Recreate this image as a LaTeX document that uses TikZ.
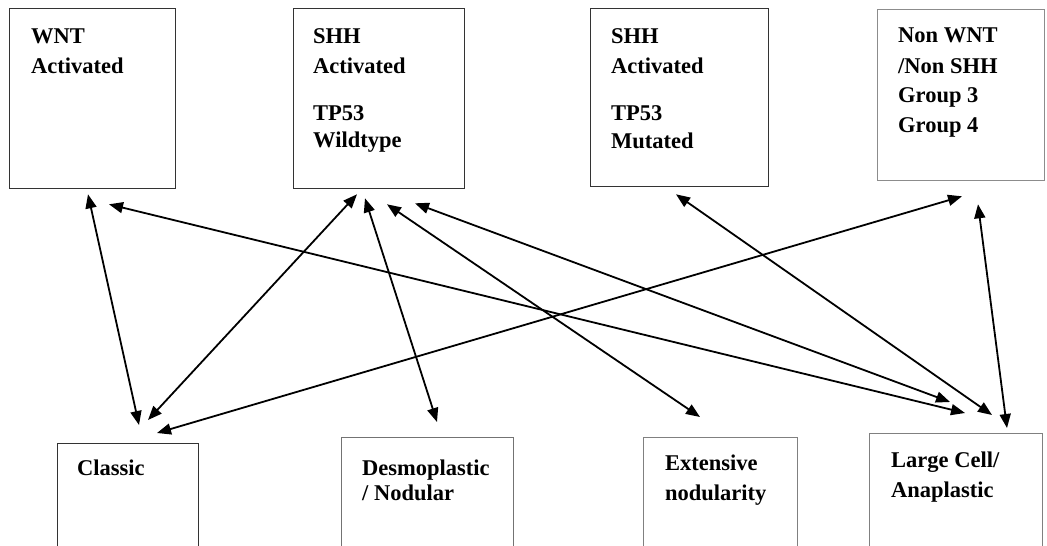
\documentclass[tikz,border=0pt]{standalone}
\usepackage{fontspec}
\setmainfont{Liberation Serif}
\usetikzlibrary{arrows.meta,calc}
\begin{document}
\begin{tikzpicture}[x=1pt,y=-1pt,
  box/.style={draw=#1,line width=1.3pt,anchor=north west,inner sep=0pt},
  box/.default={black!80},
  lbl/.style={anchor=base west,inner sep=0pt,font=\bfseries\fontsize{22.5}{26}\selectfont},
  arr/.style={line width=1.8pt,{Triangle[length=14pt,width=11pt]}-{Triangle[length=14pt,width=11pt]}}]
\useasboundingbox (0,0) rectangle (1047,546);
\clip (0,0) rectangle (1047,546);
\fill[white] (0,0) rectangle (1047,546);
% top boxes
\node[box,minimum width=166pt,minimum height=180pt] (wnt) at (9,8) {};
\node[box,minimum width=171pt,minimum height=180pt] (shhw) at (293,8) {};
\node[box,minimum width=178pt,minimum height=178pt] (shhm) at (590,8) {};
\node[box=black!45,minimum width=167pt,minimum height=171pt] (non) at (877,9) {};
% bottom boxes
\node[box,minimum width=141pt,minimum height=130pt] (cls) at (57,443) {};
\node[box=black!55,minimum width=172pt,minimum height=130pt] (des) at (341,437) {};
\node[box=black!50,minimum width=154pt,minimum height=130pt] (ext) at (643,437) {};
\node[box=black!50,minimum width=173pt,minimum height=130pt] (lc) at (869,433) {};
% texts
\node[lbl] (t1a) at (31,43) {WNT};
\node[lbl] (t1b) at (31,73) {Activated};
\node[lbl] (t2a) at (313,43) {SHH};
\node[lbl] (t2b) at (313,73) {Activated};
\node[lbl] (t2c) at (313,120) {TP53};
\node[lbl] (t2d) at (313,147) {Wildtype};
\node[lbl] (t3a) at (611,43) {SHH};
\node[lbl] (t3b) at (611,73) {Activated};
\node[lbl] (t3c) at (611,120) {TP53};
\node[lbl] (t3d) at (611,148) {Mutated};
\node[lbl] (t4a) at (898,42) {Non WNT};
\node[lbl] (t4b) at (898,73) {/Non SHH};
\node[lbl] (t4c) at (898,102) {Group 3};
\node[lbl] (t4d) at (898,132) {Group 4};
\node[lbl] (b1a) at (77,475) {Classic};
\node[lbl] (b2a) at (362,475) {Desmoplastic};
\node[lbl] (b2b) at (362,500) {/ Nodular};
\node[lbl] (b3a) at (665,470) {Extensive};
\node[lbl] (b3b) at (665,500) {nodularity};
\node[lbl] (b4a) at (891,467) {Large Cell/};
\node[lbl] (b4b) at (891,497) {Anaplastic};
% arrows
\draw[arr] ($(wnt.south west)+(79,5)$) -- ($(cls.north west)+(82,-18)$);
\draw[arr] ($(wnt.south west)+(100,15)$) -- ($(lc.north west)+(96,-20)$);
\draw[arr] ($(shhw.south west)+(64,5)$) -- ($(cls.north west)+(91,-23)$);
\draw[arr] ($(shhw.south west)+(72,9)$) -- ($(des.north west)+(96,-15)$);
\draw[arr] ($(shhw.south west)+(94,15)$) -- ($(ext.north west)+(57,-20)$);
\draw[arr] ($(shhw.south west)+(122,14)$) -- ($(lc.north west)+(81,-31)$);
\draw[arr] ($(shhm.south west)+(86,7)$) -- ($(lc.north west)+(123,-18)$);
\draw[arr] ($(non.south west)+(85,15)$) -- ($(cls.north west)+(100,-10)$);
\draw[arr] ($(non.south west)+(101,23)$) -- ($(lc.north west)+(138,-5)$);
\end{tikzpicture}
\end{document}
